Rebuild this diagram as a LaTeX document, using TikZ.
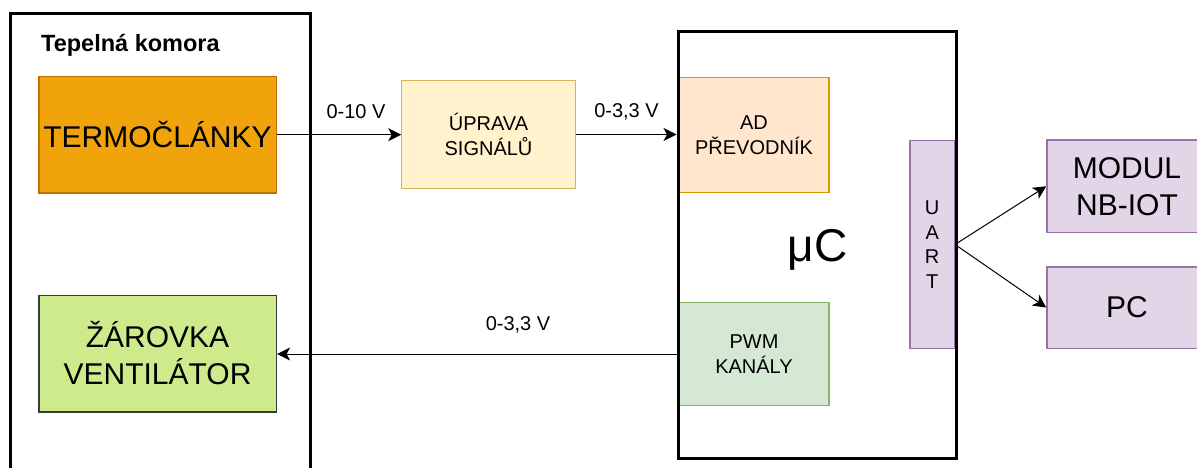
\documentclass[tikz,border=0pt]{standalone}
\usepackage{fontspec}
\setmainfont{Liberation Sans}
\usetikzlibrary{positioning, arrows.meta}

\definecolor{termoFill}{HTML}{F0A30A}
\definecolor{termoLine}{HTML}{BD7000}
\definecolor{zarFill}{HTML}{CDEB8B}
\definecolor{zarLine}{HTML}{36393D}
\definecolor{upravaFill}{HTML}{FFF2CC}
\definecolor{upravaLine}{HTML}{D6B656}
\definecolor{adFill}{HTML}{FFE6CC}
\definecolor{adLine}{HTML}{D79B00}
\definecolor{pwmFill}{HTML}{D5E8D4}
\definecolor{pwmLine}{HTML}{82B366}
\definecolor{fialFill}{HTML}{E1D5E7}
\definecolor{fialLine}{HTML}{9673A6}

\newcommand{\velky}{\fontsize{30}{37}\selectfont}
\newcommand{\maly}{\fontsize{20}{24.5}\selectfont}

\tikzset{
  blok/.style={draw, rectangle, inner sep=0pt, align=center, line width=1.2pt},
  ramec/.style={draw, rectangle, inner sep=0pt, line width=3pt},
  sipka/.style={-{Stealth[length=13pt, width=13pt, inset=3.5pt]}, line width=1pt},
  popis/.style={font=\maly, inner sep=0pt}
}

\begin{document}
\begin{tikzpicture}[x=1pt, y=-1pt]
  \useasboundingbox (0,0) rectangle (1197,468);

  % tepelna komora
  \node[ramec, minimum width=300.7pt, minimum height=476pt] (komora) at (160.6,252) {};
  \node[font=\bfseries\fontsize{23.5}{28}\selectfont, inner sep=0pt, anchor=base west] (komoraNazev) at (41,52) {Tepelná komora};
  \node[blok, line width=1.6pt, fill=termoFill, draw=termoLine, minimum width=237.6pt, minimum height=116pt, font=\velky] (termo) at (157.5,134.7) {TERMOČLÁNKY};
  \node[blok, line width=1.6pt, fill=zarFill, draw=zarLine, minimum width=237.6pt, minimum height=116.4pt, font=\velky] (zar) at (157.5,353.5) {ŽÁROVKA\\VENTILÁTOR};

  \node[blok, fill=upravaFill, draw=upravaLine, minimum width=173.4pt, minimum height=107.6pt, font=\maly] (uprava) at (488.5,134.5) {ÚPRAVA\\SIGNÁLŮ};

  % mikrokontroler
  \node[blok, fill=adFill, draw=adLine, minimum width=150pt, minimum height=115.4pt, font=\maly] (ad) at (754,135) {AD\\PŘEVODNÍK};
  \node[blok, fill=pwmFill, draw=pwmLine, minimum width=150pt, minimum height=103.7pt, font=\maly] (pwm) at (754,354) {PWM\\KANÁLY};
  \node[blok, fill=fialFill, draw=fialLine, minimum width=44.5pt, minimum height=207.3pt, font=\maly] (uart) at (932.2,244.5) {U\\A\\R\\T};
  \node[ramec, minimum width=278.8pt, minimum height=426.6pt, font=\fontsize{46}{50}\selectfont, text depth=0pt] (uc) at (817.4,245) {μC};

  \node[blok, line width=1.6pt, fill=fialFill, draw=fialLine, minimum width=160pt, minimum height=92.5pt, font=\velky] (modul) at (1127,186.3) {MODUL\\NB-IOT};
  \node[blok, line width=1.6pt, fill=fialFill, draw=fialLine, minimum width=160pt, minimum height=81.6pt, font=\velky] (pc) [below=32.6pt of modul] {PC};

  % spoje
  \draw[sipka] (termo.east) -- (termo.east -| uprava.west);
  \draw[sipka] (uprava.east) -- (uprava.east -| uc.west);
  \draw[sipka] (pwm.west -| uc.west) -- (zar.east |- pwm.west);
  \draw[sipka] (uart.east) -- (modul.west);
  \draw[sipka] (uart.east) -- (pc.west);

  \node[popis] (napeti1) at (356,111.7) {0-10 V};
  \node[popis] (napeti2) at (626.5,111.7) {0-3,3 V};
  \node[popis] (napeti3) at (518,325) {0-3,3 V};
\end{tikzpicture}
\end{document}
